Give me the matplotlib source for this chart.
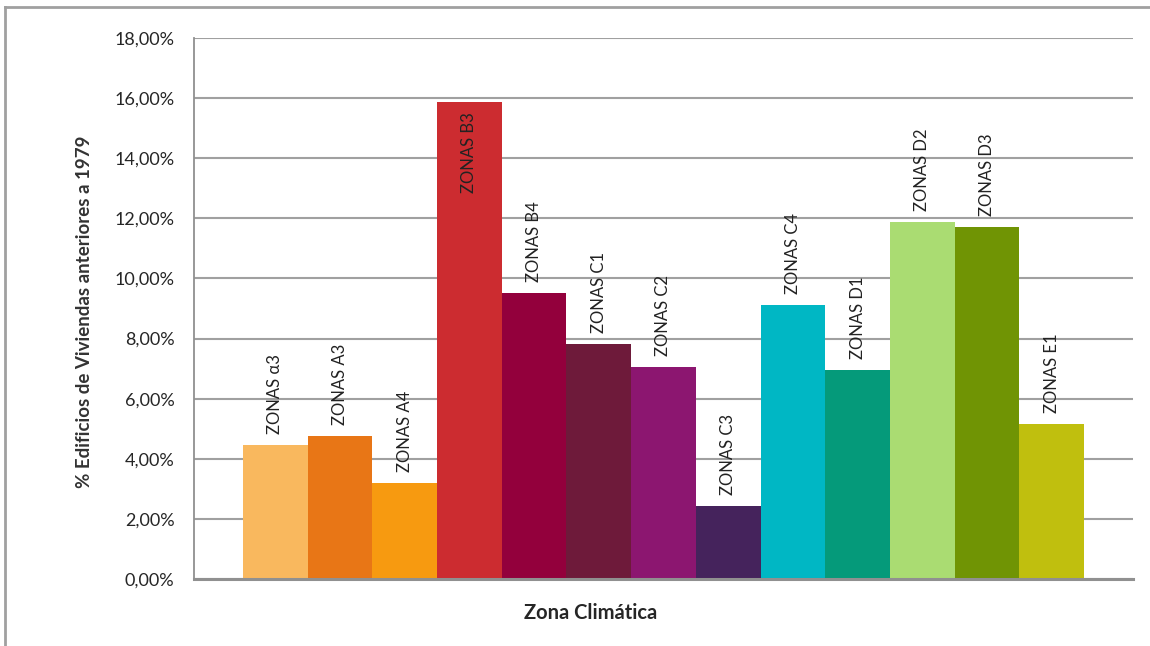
import numpy as np
import matplotlib
matplotlib.use('Agg')
import matplotlib.pyplot as plt
from matplotlib.ticker import FuncFormatter, MultipleLocator
from matplotlib.lines import Line2D

plt.rcParams['font.family'] = ['Lato', 'DejaVu Sans']

# % of dwellings built before 1979, per climate zone
zonas = ['ZONAS α3', 'ZONAS A3', 'ZONAS A4', 'ZONAS B3', 'ZONAS B4', 'ZONAS C1',
         'ZONAS C2', 'ZONAS C3', 'ZONAS C4', 'ZONAS D1', 'ZONAS D2', 'ZONAS D3',
         'ZONAS E1']
porcentaje = [4.47, 4.76, 3.18, 15.86, 9.51, 7.81, 7.06, 2.44, 9.10, 6.95, 11.88, 11.70, 5.15]
colores = ['#F9B85E', '#E87616', '#F79A10', '#CC2C30', '#93003C', '#6E1A3A',
           '#8C1670', '#45235C', '#00B7C4', '#059A7A', '#AADC72', '#709404',
           '#C0BF0E']

W, H = 1150, 646
fig = plt.figure(figsize=(W / 100, H / 100), dpi=100)
ax = fig.add_axes([194 / W, (H - 579) / H, 939 / W, 541 / H])

x = np.arange(len(zonas))
ax.bar(x, porcentaje, width=1.0, color=colores, zorder=2)

ax.set_ylim(0, 18)
ax.set_xlim(-0.5 - 0.757, len(zonas) - 0.5 + 0.757)
ax.yaxis.set_major_locator(MultipleLocator(2))
ax.yaxis.set_major_formatter(FuncFormatter(lambda v, p: f'{v:.2f}%'.replace('.', ',')))
ax.set_xticks([])
ax.tick_params(axis='y', length=0, pad=14, labelsize=13, labelcolor='#262626')
ax.grid(axis='y', color='#a0a0a0', linewidth=1.5, zorder=0)

for s in ['top', 'right']:
    ax.spines[s].set_visible(False)
ax.spines['left'].set_color('#909090')
ax.spines['left'].set_linewidth(1.3)
ax.spines['bottom'].set_color('#909090')
ax.spines['bottom'].set_linewidth(2.2)
ax.spines['bottom'].set_zorder(3)

# zone labels above each bar; the tallest one sits inside its bar
for xi, val, name in zip(x, porcentaje, zonas):
    if val > 15:
        ax.annotate(name, (xi, val), xytext=(0, -7), textcoords='offset points',
                    rotation=90, ha='center', va='top', fontsize=12, color='#222222')
    else:
        ax.annotate(name, (xi, val), xytext=(0, 8), textcoords='offset points',
                    rotation=90, ha='center', va='bottom', fontsize=12, color='#222222')

fig.text(591 / W, 1 - 613 / H, 'Zona Climática', ha='center', va='center',
         fontsize=14.5, fontweight='bold', color='#262626')
fig.text(85 / W, 1 - 312 / H, '% Edificios de Viviendas anteriores a 1979', ha='center',
         va='center', rotation=90, fontsize=13.5, fontweight='bold', color='#333333')

# outer chart frame
fig.add_artist(Line2D([5 / W, 1], [1 - 7 / H, 1 - 7 / H], color='#a0a0a0', linewidth=2))
fig.add_artist(Line2D([5 / W, 5 / W], [0, 1 - 7 / H], color='#a0a0a0', linewidth=2))

fig.savefig('out.png', dpi=100)
